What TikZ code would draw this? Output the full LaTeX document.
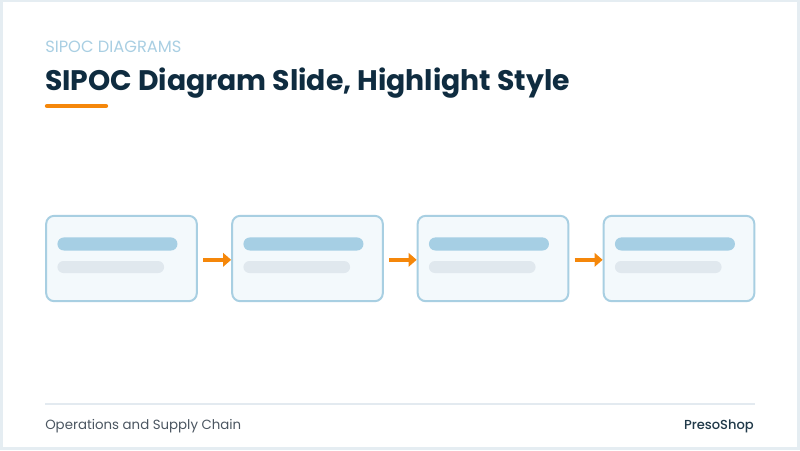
\documentclass[tikz,border=0pt]{standalone}
\usepackage{fontspec}
\setmainfont{Poppins}
\newfontfamily\mediumfont{Poppins Medium}
\usetikzlibrary{arrows.meta}
\definecolor{framegray}{HTML}{E5EDF2}
\definecolor{navy}{HTML}{0F2C40}
\definecolor{paleblue}{HTML}{A9CFE3}
\definecolor{boxfill}{HTML}{F3F9FC}
\definecolor{boxline}{HTML}{A8CFE2}
\definecolor{barblue}{HTML}{A6CFE4}
\definecolor{bargray}{HTML}{E0E8EE}
\definecolor{accent}{HTML}{F5870A}
\definecolor{footgray}{HTML}{4B5661}
\definecolor{rulegray}{HTML}{E3EAF0}
\tikzset{
  stage/.style={draw=boxline, line width=1.5pt, fill=boxfill, rounded corners=6pt,
    minimum width=113pt, minimum height=64pt, inner sep=0pt},
  bartop/.style={fill=barblue, rounded corners=4.8pt, minimum width=90pt,
    minimum height=9.8pt, inner sep=0pt, anchor=west},
  barlow/.style={fill=bargray, rounded corners=4.5pt, minimum width=80pt,
    minimum height=9pt, inner sep=0pt, anchor=west},
  flow/.style={->, draw=accent, line width=3pt, shorten <=4pt}
}
\begin{document}
\begin{tikzpicture}[x=0.75pt, y=-0.75pt, >={Triangle[length=6pt,width=10pt]}]
\useasboundingbox (0,0) rectangle (800,450);
\fill[framegray] (0,0) rectangle (800,450);
\fill[white] (3,2) rectangle (797,447);
% heading
\node[anchor=base west, inner sep=0pt, text=paleblue, font=\fontsize{12.2}{14}\selectfont] (kicker) at (45,52) {SIPOC DIAGRAMS};
\node[anchor=base west, inner sep=0pt, text=navy, font=\fontsize{21.2}{25}\selectfont\bfseries] (title) at (45,90) {SIPOC Diagram Slide, Highlight Style};
\draw[accent, line width=3.2pt, line cap=round] (47,106)--(106,106);
% stages
\foreach \i/\x in {1/121.5, 2/307.5, 3/493, 4/679}
{
    \node[stage] (s\i) at (\x,258.5) {};
    \node[bartop] (t\i) at ([xshift=9pt,yshift=10.9pt]s\i.west) {};
    \node[barlow] (l\i) at ([xshift=9pt,yshift=-6.4pt]s\i.west) {};
}
\foreach \a/\b in {1/2, 2/3, 3/4}
{
    \draw[flow] ([yshift=-1pt]s\a.east) -- ([yshift=-1pt]s\b.west);
}
% footer
\draw[rulegray, line width=1.5pt] (45,404)--(755,404);
\node[anchor=base west, inner sep=0pt, text=footgray, font=\fontsize{10}{12}\selectfont] (topic) at (45,429) {Operations and Supply Chain};
\node[anchor=base east, inner sep=0pt, text=navy!85!gray, font=\fontsize{9.8}{12}\selectfont\mediumfont] (brand) at (754,429) {PresoShop};
\end{tikzpicture}
\end{document}
